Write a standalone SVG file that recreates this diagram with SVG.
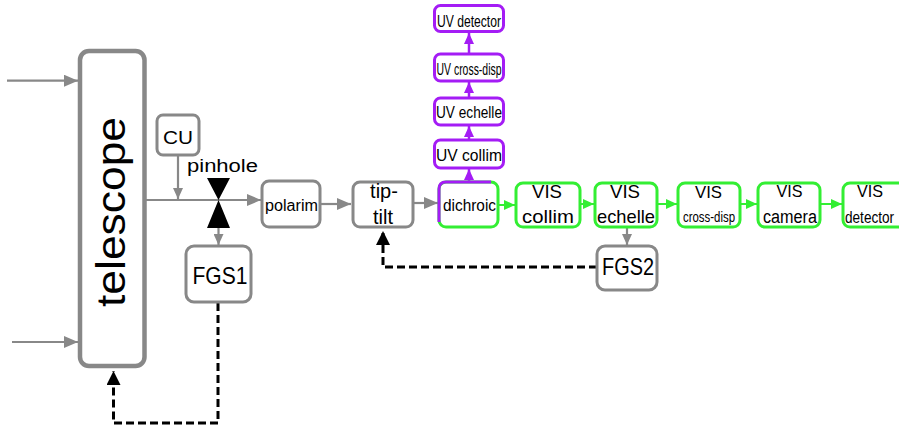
<svg xmlns="http://www.w3.org/2000/svg" width="899" height="428" viewBox="0 0 899 428">
  <style>
    text { font-family: "Liberation Sans", Arial, sans-serif; fill: #000; }
    .gray { fill: #fff; stroke: #888; stroke-width: 3; }
    .vis { fill: #fff; stroke: #33ee33; stroke-width: 3; }
    .uv { fill: #fff; stroke: #a41cf5; stroke-width: 3; }
    .ln-gray { fill: none; stroke: #888; stroke-width: 2.2; }
    .ln-vis { fill: none; stroke: #33ee33; stroke-width: 2; }
    .ln-uv { fill: none; stroke: #a41cf5; stroke-width: 2.5; }
    .ln-dash { fill: none; stroke: #000; stroke-width: 3; stroke-dasharray: 8 4; }
    .c { text-anchor: middle; }
  </style>
  <defs>
    <marker id="ahGray" markerUnits="userSpaceOnUse" markerWidth="14" markerHeight="12" refX="14" refY="6" orient="auto">
      <path d="M0,0 L14,6 L0,12 z" fill="#888"/>
    </marker>
    <marker id="ahGraySm" markerUnits="userSpaceOnUse" markerWidth="11" markerHeight="10" refX="11" refY="5" orient="auto">
      <path d="M0,0 L11,5 L0,10 z" fill="#888"/>
    </marker>
    <marker id="ahVis" markerUnits="userSpaceOnUse" markerWidth="11" markerHeight="10" refX="11" refY="5" orient="auto">
      <path d="M0,0 L11,5 L0,10 z" fill="#33ee33"/>
    </marker>
    <marker id="ahUv" markerUnits="userSpaceOnUse" markerWidth="11" markerHeight="10" refX="11" refY="5" orient="auto">
      <path d="M0,0 L11,5 L0,10 z" fill="#a41cf5"/>
    </marker>
    <marker id="ahBlack" markerUnits="userSpaceOnUse" markerWidth="14" markerHeight="14" refX="14" refY="7" orient="auto">
      <path d="M0,0 L14,7 L0,14 z" fill="#000"/>
    </marker>
  </defs>

  <!-- connectors -->
  <g id="connectors">
    <path class="ln-gray" d="M7,80.7 L78,80.7" marker-end="url(#ahGray)"/>
    <path class="ln-gray" d="M12,342 L78,342" marker-end="url(#ahGray)"/>
    <path class="ln-gray" d="M146,200 L261,200" marker-end="url(#ahGray)"/>
    <path class="ln-gray" d="M178,156 L178,199" marker-end="url(#ahGraySm)"/>
    <path class="ln-gray" d="M218.5,226 L218.5,245" marker-end="url(#ahGraySm)"/>
    <path class="ln-gray" d="M320,204 L351,204" marker-end="url(#ahGray)"/>
    <path class="ln-gray" d="M413,203 L438,203" marker-end="url(#ahGray)"/>
    <path class="ln-gray" d="M627,228 L627,245" marker-end="url(#ahGraySm)"/>
    <path class="ln-vis" d="M499,205 L515,205" marker-end="url(#ahVis)"/>
    <path class="ln-vis" d="M581,204 L594,204" marker-end="url(#ahVis)"/>
    <path class="ln-vis" d="M658,204 L677,204" marker-end="url(#ahVis)"/>
    <path class="ln-vis" d="M741,204 L757,204" marker-end="url(#ahVis)"/>
    <path class="ln-vis" d="M821,204 L842,204" marker-end="url(#ahVis)"/>
    <path class="ln-uv" d="M469,181 L469,169" marker-end="url(#ahUv)"/>
    <path class="ln-uv" d="M469,139 L469,126" marker-end="url(#ahUv)"/>
    <path class="ln-uv" d="M469,97 L469,82" marker-end="url(#ahUv)"/>
    <path class="ln-uv" d="M469,53 L469,33" marker-end="url(#ahUv)"/>
    <path class="ln-dash" d="M218,303 L218,423 L113.5,423 L113.5,371" marker-end="url(#ahBlack)"/>
    <path class="ln-dash" d="M597,267 L383,267 L383,231" marker-end="url(#ahBlack)"/>
  </g>

  <g id="telescope">
    <rect x="80" y="51" width="64.5" height="315" rx="9" fill="#fff" stroke="#888" stroke-width="4.5"/>
    <text transform="translate(125,212) rotate(-90)" class="c" font-size="40" textLength="190" lengthAdjust="spacingAndGlyphs">telescope</text>
  </g>

  <g id="cu">
    <rect class="gray" x="157" y="115" width="42" height="40" rx="6"/>
    <text x="178" y="144" class="c" font-size="19" textLength="30" lengthAdjust="spacingAndGlyphs">CU</text>
  </g>

  <g id="pinhole">
    <path d="M207,178 L230,178 L218.5,200 z M207,228 L230,228 L218.5,200 z" fill="#000"/>
    <text x="187" y="172" font-size="18" textLength="71" lengthAdjust="spacingAndGlyphs">pinhole</text>
  </g>

  <g id="polarim">
    <rect class="gray" x="262" y="181" width="58" height="46" rx="7"/>
    <text x="265" y="211" font-size="16" textLength="53" lengthAdjust="spacingAndGlyphs">polarim</text>
  </g>

  <g id="fgs1">
    <rect class="gray" x="186" y="246" width="65" height="56" rx="8"/>
    <text x="192.5" y="284" font-size="24" textLength="55" lengthAdjust="spacingAndGlyphs">FGS1</text>
  </g>

  <g id="tip-tilt">
    <rect class="gray" x="353" y="182" width="60" height="45" rx="7"/>
    <text x="384" y="198" class="c" font-size="20">tip-</text>
    <text x="383" y="224" class="c" font-size="20">tilt</text>
  </g>

  <g id="dichroic">
    <rect class="vis" x="439" y="182" width="59" height="45" rx="7"/>
    <path d="M439,222 L439,189 Q439,182 446,182 L491,182" fill="none" stroke="#a41cf5" stroke-width="3"/>
    <text x="443" y="211" font-size="17" textLength="53" lengthAdjust="spacingAndGlyphs">dichroic</text>
  </g>

  <g id="uv-collim">
    <rect class="uv" x="434.5" y="140" width="69" height="28" rx="6"/>
    <text x="469" y="161" class="c" font-size="17" textLength="66" lengthAdjust="spacingAndGlyphs">UV collim</text>
  </g>
  <g id="uv-echelle">
    <rect class="uv" x="434.5" y="98" width="69" height="27" rx="6"/>
    <text x="469" y="118" class="c" font-size="16.5" textLength="66" lengthAdjust="spacingAndGlyphs">UV echelle</text>
  </g>
  <g id="uv-cross-disp">
    <rect class="uv" x="434.5" y="54" width="69" height="27" rx="6"/>
    <text x="469" y="75" class="c" font-size="16.5" textLength="65" lengthAdjust="spacingAndGlyphs">UV cross-disp</text>
  </g>
  <g id="uv-detector">
    <rect class="uv" x="434.5" y="5.5" width="69" height="26" rx="6"/>
    <text x="469" y="27" class="c" font-size="16.5" textLength="64" lengthAdjust="spacingAndGlyphs">UV detector</text>
  </g>

  <g id="vis-collim">
    <rect class="vis" x="516" y="183" width="64" height="44" rx="7"/>
    <text x="547" y="198" class="c" font-size="18" textLength="30" lengthAdjust="spacingAndGlyphs">VIS</text>
    <text x="548" y="223" class="c" font-size="19" textLength="52" lengthAdjust="spacingAndGlyphs">collim</text>
  </g>
  <g id="vis-echelle">
    <rect class="vis" x="595" y="183" width="62" height="44" rx="7"/>
    <text x="625" y="198" class="c" font-size="18" textLength="30" lengthAdjust="spacingAndGlyphs">VIS</text>
    <text x="626" y="223" class="c" font-size="19" textLength="58" lengthAdjust="spacingAndGlyphs">echelle</text>
  </g>
  <g id="vis-cross-disp">
    <rect class="vis" x="678" y="183" width="62" height="44" rx="7"/>
    <text x="708.5" y="198" class="c" font-size="17" textLength="27" lengthAdjust="spacingAndGlyphs">VIS</text>
    <text x="709" y="222" class="c" font-size="14" textLength="52" lengthAdjust="spacingAndGlyphs">cross-disp</text>
  </g>
  <g id="vis-camera">
    <rect class="vis" x="758" y="183" width="62" height="44" rx="7"/>
    <text x="789.5" y="197" class="c" font-size="17" textLength="26" lengthAdjust="spacingAndGlyphs">VIS</text>
    <text x="790" y="223" class="c" font-size="18" textLength="54" lengthAdjust="spacingAndGlyphs">camera</text>
  </g>
  <g id="vis-detector">
    <rect class="vis" x="843" y="183" width="64" height="44" rx="7"/>
    <text x="870" y="197" class="c" font-size="17" textLength="26" lengthAdjust="spacingAndGlyphs">VIS</text>
    <text transform="translate(845,223) scale(0.8,1)" font-size="17">detector</text>
  </g>

  <g id="fgs2">
    <rect class="gray" x="597" y="246" width="60" height="44" rx="8"/>
    <text x="602" y="275" font-size="24" textLength="52" lengthAdjust="spacingAndGlyphs">FGS2</text>
  </g>
</svg>
